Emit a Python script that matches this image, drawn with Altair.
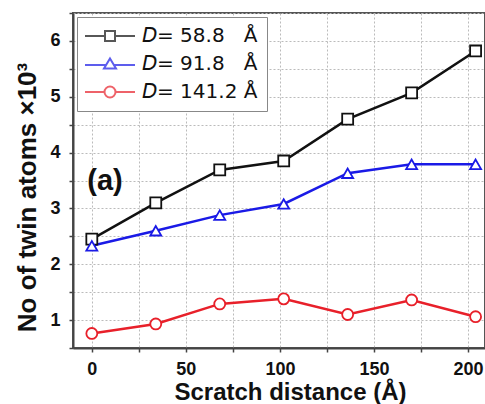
import altair as alt
import pandas as pd

distance = [0, 34, 68, 102, 136, 170, 204]
series_names = ["𝘋= 58.8\u00a0\u00a0\u00a0Å", "𝘋= 91.8\u00a0\u00a0\u00a0Å", "𝘋= 141.2\u00a0Å"]
twins_58 = [2.45, 3.10, 3.69, 3.85, 4.60, 5.07, 5.82]
twins_91 = [2.33, 2.60, 2.88, 3.08, 3.63, 3.79, 3.79]
twins_141 = [0.76, 0.93, 1.29, 1.38, 1.10, 1.36, 1.06]
colors = ["#111111", "#1a1ae6", "#e8202a"]
shapes = ["square", "triangle-up", "circle"]
legend_paths = [
    "M-2.2,0H1.8M3.8,0H7.8M1.8,-1H3.8V1H1.8Z",
    "M-2.2,0.2H2.1M3.5,0.2H7.8M2.8,-1.1L4,0.9H1.6Z",
    "M-2.2,0H1.7M3.9,0H7.8M1.7,0A1.1,1.1 0 1,0 3.9,0A1.1,1.1 0 1,0 1.7,0Z",
]
panel_label = ["(a)"]
panel_x = [7]
panel_y = [3.49]

rows = []
for name, vals in zip(series_names, [twins_58, twins_91, twins_141]):
    for d, v in zip(distance, vals):
        rows.append({"series": name, "x": d, "y": v})
df = pd.DataFrame(rows)
ann = pd.DataFrame({"label": panel_label, "x": panel_x, "y": panel_y})

FONT = "Liberation Sans"

x_enc = alt.X(
    "x:Q",
    scale=alt.Scale(domain=[-10, 209], nice=False, zero=False),
    axis=alt.Axis(
        title="Scratch distance (Å)",
        values=[0, 25, 50, 75, 100, 125, 150, 175, 200],
        labelExpr="datum.value % 50 == 0 ? format(datum.value, 'd') : ''",
        titleX=217, titleY=44, titleBaseline="middle",
    ),
)
y_enc = alt.Y(
    "y:Q",
    scale=alt.Scale(domain=[0.5, 6.5], nice=False, zero=False),
    axis=alt.Axis(
        title="No of twin atoms ×10³",
        values=[0.5, 1, 1.5, 2, 2.5, 3, 3.5, 4, 4.5, 5, 5.5, 6, 6.5],
        labelExpr="datum.value % 1 == 0 ? format(datum.value, 'd') : ''",
        titleX=-46, titleY=184, titleBaseline="middle", titleAngle=270,
    ),
)

color_scale = alt.Scale(domain=series_names, range=colors)

lines = alt.Chart(df).mark_line(strokeWidth=2.5).encode(
    x=x_enc, y=y_enc,
    color=alt.Color("series:N", scale=color_scale, legend=None),
    detail="series:N",
)

points = alt.Chart(df).mark_point(filled=False, fill="white", fillOpacity=1, size=120, strokeWidth=1.8, opacity=1).encode(
    x=x_enc, y=y_enc,
    color=alt.Color("series:N", scale=color_scale, legend=None),
    shape=alt.Shape("series:N", scale=alt.Scale(domain=series_names, range=shapes), legend=None),
)

legend_cfg = dict(
    title=None, orient="none", legendX=4, legendY=4, padding=9,
    strokeColor="#888888", fillColor="white", symbolSize=100,
    symbolStrokeWidth=2, symbolFillColor="white",
    labelFontSize=20, labelFont="DejaVu Sans", labelOffset=36, rowPadding=8,
    labelColor="#111111",
)

legend_layer = alt.Chart(df).transform_filter("datum.x < -1000").mark_point(filled=False, size=100, strokeWidth=2).encode(
    x=x_enc, y=y_enc,
    color=alt.Color("series:N", scale=color_scale, legend=alt.Legend(**legend_cfg)),
    shape=alt.Shape("series:N", scale=alt.Scale(domain=series_names, range=legend_paths), legend=alt.Legend(**legend_cfg)),
)

text = alt.Chart(ann).mark_text(font=FONT, fontSize=29, fontWeight="bold", color="#111111").encode(
    x=x_enc, y=y_enc, text="label:N"
)

chart = alt.layer(lines, points, text, legend_layer).resolve_scale(
    shape="independent", color="independent"
).properties(
    width=412, height=335,
    autosize=alt.AutoSizeParams(type="none"),
    padding={"left": 73, "top": 13, "right": 0, "bottom": 56},
).configure_view(
    stroke="#555555", strokeWidth=2
).configure_axis(
    domainColor="#444444", domainWidth=2,
    tickColor="#444444", tickSize=4, tickWidth=1.5,
    gridColor="#bbbbbb", gridDash=[2, 2], gridWidth=1,
    labelFont=FONT, labelFontSize=18, labelFontWeight="bold", labelColor="#111111",
    titleFont=FONT, titleFontSize=24, titleFontWeight="bold", titleColor="#111111",
).configure_axisX(labelPadding=8).configure_axisY(labelPadding=9, titleFontSize=26)

chart.save("out.html", embed_options={"renderer": "svg", "actions": False})
